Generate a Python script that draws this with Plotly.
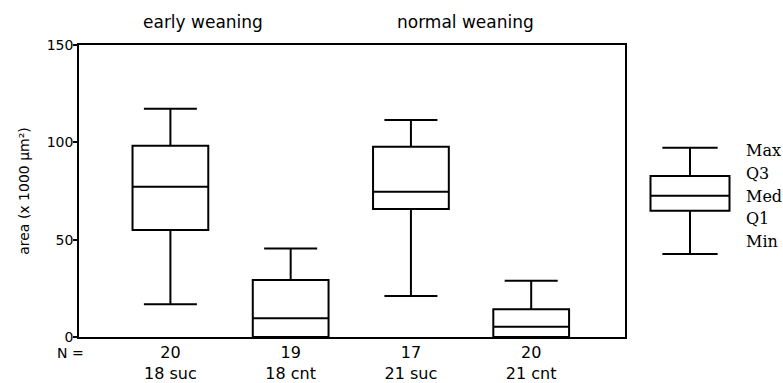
import plotly.graph_objects as go

# ---- data ----
groups = ["18 suc", "18 cnt", "21 suc", "21 cnt"]
n_counts = [20, 19, 17, 20]
maxs = [117.3, 45.4, 111.5, 28.9]
q3s = [98.3, 29.3, 97.7, 14.2]
medians = [77.2, 9.6, 74.6, 5.3]
q1s = [55.0, 0.0, 65.7, 0.0]
mins = [16.8, 0.0, 21.1, 0.0]

group_titles = ["early weaning", "normal weaning"]
y_ticks = [0, 50, 100, 150]

# key (explanatory) box
key_stats = {"min": 42.6, "q1": 64.9, "med": 72.6, "q3": 82.7, "max": 97.2}
key_labels = ["Max", "Q3", "Med", "Q1", "Min"]

W, H = 783, 383
ML, MT, MB = 79, 45, 46
PLOT_W = W - ML
PLOT_H = H - MT - MB
main_frac = (625 - ML) / PLOT_W

sans = "DejaVu Sans"
serif = "DejaVu Serif"

fig = go.Figure()
fig.add_trace(go.Box(
    x=groups, q1=q1s, median=medians, q3=q3s,
    lowerfence=mins, upperfence=maxs,
    width=0.63, whiskerwidth=0.7,
    fillcolor="white", line=dict(color="black", width=2),
    boxpoints=False, showlegend=False, hoverinfo="skip",
))
fig.add_trace(go.Box(
    x=[0], q1=[key_stats["q1"]], median=[key_stats["med"]], q3=[key_stats["q3"]],
    lowerfence=[key_stats["min"]], upperfence=[key_stats["max"]],
    width=0.79, whiskerwidth=0.7,
    fillcolor="white", line=dict(color="black", width=2),
    boxpoints=False, showlegend=False, hoverinfo="skip",
    xaxis="x2", yaxis="y",
))

annotations = []
# group titles
for txt, xc in zip(group_titles, [203, 465]):
    annotations.append(dict(
        text=txt, xref="paper", yref="paper",
        x=(xc - ML) / PLOT_W, y=1 + (MT - 22) / PLOT_H,
        xanchor="center", yanchor="middle", showarrow=False,
        font=dict(family=sans, size=17, color="black"),
    ))
# N =
annotations.append(dict(
    text="N =", xref="paper", yref="paper",
    x=(86 - ML) / PLOT_W, y=-(353 - (H - MB)) / PLOT_H,
    xanchor="right", yanchor="middle", showarrow=False,
    font=dict(family=sans, size=14, color="black"),
))
# key labels
for i, lab in enumerate(key_labels):
    ypix = 150 + i * 23
    annotations.append(dict(
        text=lab, xref="paper", yref="paper",
        x=(744 - ML) / PLOT_W, y=((H - MB) - ypix) / PLOT_H,
        xanchor="left", yanchor="middle", showarrow=False,
        font=dict(family=serif, size=16, color="black"),
    ))

fig.update_layout(
    width=W, height=H, autosize=False,
    margin=dict(l=ML, r=0, t=MT, b=MB, pad=0),
    paper_bgcolor="white", plot_bgcolor="white",
    xaxis=dict(
        domain=[0, main_frac], range=[-0.76, 3.78],
        type="category",
        tickvals=groups,
        ticktext=[f"{n}<br>{g}" for n, g in zip(n_counts, groups)],
        tickfont=dict(family=sans, size=16, color="black"),
        ticks="", showgrid=False, zeroline=False,
        showline=True, mirror=True, linecolor="black", linewidth=2,
    ),
    xaxis2=dict(
        domain=[(640 - ML) / PLOT_W, (740 - ML) / PLOT_W],
        range=[-0.5, 0.5], anchor="y", visible=False,
    ),
    yaxis=dict(
        range=[0, 150], tickvals=y_ticks,
        ticks="outside", ticklen=4, tickcolor="black", tickwidth=1.5,
        ticklabelstandoff=-3,
        tickfont=dict(family=sans, size=14, color="black"),
        title=dict(text="area (x 1000 µm²)", font=dict(family=sans, size=14, color="black"), standoff=14),
        showgrid=False, zeroline=False,
        showline=True, mirror=True, linecolor="black", linewidth=1.5,
    ),
    annotations=annotations,
)

fig.write_html("out.html")
